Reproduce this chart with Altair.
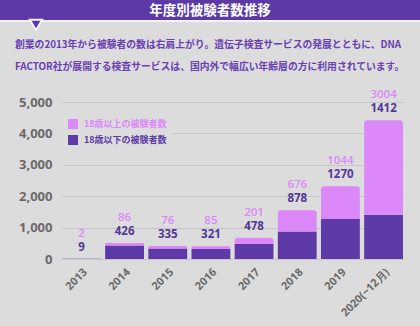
import altair as alt
import pandas as pd

years = ["2013", "2014", "2015", "2016", "2017", "2018", "2019", "2020(~12月)"]
under18 = [9, 426, 335, 321, 478, 878, 1270, 1412]
over18 = [2, 86, 76, 85, 201, 676, 1044, 3004]
series_names = ["18歳以上の被験者数", "18歳以下の被験者数"]
y_ticks = [0, 1000, 2000, 3000, 4000, 5000]

header_title = "年度別被験者数推移"
para_lines = [
    "創業の2013年から被験者の数は右肩上がり。遺伝子検査サービスの発展とともに、DNA",
    "FACTOR社が展開する検査サービスは、国内外で幅広い年齢層の方に利用されています。",
]

DARK = "#5e3aa8"
PINK = "#dd88f9"
BG = "#dcdcdc"
HEAD = "#5b3aa6"
TXT = "#6a40b2"

rows = []
for yr, u, o in zip(years, under18, over18):
    rows.append({"year": yr, "series": series_names[1], "start": 0, "end": u})
    rows.append({"year": yr, "series": series_names[0], "start": u, "end": u + o})
long_df = pd.DataFrame(rows)
wide_df = pd.DataFrame({"year": years, "under": under18, "over": over18})
wide_df["total"] = wide_df["under"] + wide_df["over"]

xaxis = alt.Axis(labelAngle=-45, labelColor="#6a6a6a", labelFontSize=11,
                 labelFontWeight="bold", labelFont="Open Sans",
                 ticks=False, domain=False, labelPadding=7)
yaxis = alt.Axis(values=y_ticks, format=",d", labelColor="#6a6a6a",
                 labelFontSize=13, labelFontWeight="bold", labelFont="Open Sans",
                 ticks=False, domain=False, labelPadding=10, labelOverlap=False,
                 gridColor="#c6c6c6", gridWidth=1)
xscale = alt.Scale(paddingInner=0.1, paddingOuter=0)
yscale = alt.Scale(domain=[0, 5000])


def X():
    return alt.X("year:N", sort=years, title=None, scale=xscale, axis=xaxis)


def Y(field):
    return alt.Y(field, scale=yscale, title=None, axis=yaxis)


color = alt.Color("series:N", title=None,
                  scale=alt.Scale(domain=series_names, range=[PINK, DARK]),
                  legend=alt.Legend(orient="none", legendX=2, legendY=13,
                                    symbolType="square", symbolSize=100,
                                    symbolStrokeWidth=0, symbolOpacity=1,
                                    labelFontSize=9, labelFont="Noto Sans CJK JP",
                                    labelFontWeight="bold",
                                    labelColor=alt.ExprRef(
                                        f"datum.label == '{series_names[0]}' ? '{PINK}' : '{DARK}'"),
                                    rowPadding=6, labelOffset=6, padding=4,
                                    fillColor=BG, strokeColor=BG))

base = alt.Chart(long_df)
dark_bars = base.transform_filter(alt.datum.series == series_names[1]).mark_bar().encode(
    x=X(), y=Y("start:Q"), y2="end:Q", color=color)
pink_bars = base.transform_filter(alt.datum.series == series_names[0]).mark_bar(
    cornerRadiusTopLeft=3, cornerRadiusTopRight=3).encode(
    x=X(), y=Y("start:Q"), y2="end:Q", color=color)

lab = alt.Chart(wide_df)
under_lbl = lab.mark_text(dy=-11, fontSize=11.5, fontWeight="bold", color="#553897",
                          font="Open Sans").encode(
    x=X(), y=Y("total:Q"), text="under:Q")
over_lbl = lab.mark_text(dy=-25, fontSize=11.5, fontWeight=600, color=PINK,
                         font="Open Sans").encode(
    x=X(), y=Y("total:Q"), text="over:Q")

one = pd.DataFrame({"t": [header_title]})
head_rect = alt.Chart(one).mark_rect(color=HEAD).encode(
    x=alt.value(-62), x2=alt.value(358), y=alt.value(-102), y2=alt.value(-82))
white_line = alt.Chart(one).mark_rect(color="#f4f4f4").encode(
    x=alt.value(-62), x2=alt.value(358), y=alt.value(-82), y2=alt.value(-80))
tri = alt.Chart(one).mark_point(shape="triangle-down", filled=True, fill=HEAD,
                                stroke="#f4f4f4", strokeWidth=2, opacity=1, size=150).encode(
    x=alt.value(-26), y=alt.value(-77))
head_txt = alt.Chart(one).mark_text(color="white", fontSize=13.5, fontWeight="bold",
                                    font="Noto Sans CJK JP").encode(
    x=alt.value(148), y=alt.value(-91), text="t:N")
para_df = pd.DataFrame({"t": para_lines})
para1 = alt.Chart(para_df.iloc[[0]]).mark_text(color=TXT, fontSize=9.8, fontWeight="bold",
                                               align="left", font="Noto Sans CJK JP").encode(
    x=alt.value(-47), y=alt.value(-57), text="t:N")
para2 = alt.Chart(para_df.iloc[[1]]).mark_text(color=TXT, fontSize=9.8, fontWeight="bold",
                                               align="left", font="Noto Sans CJK JP").encode(
    x=alt.value(-47), y=alt.value(-35), text="t:N")

chart = alt.layer(dark_bars, pink_bars, under_lbl, over_lbl,
                  head_rect, white_line, tri, head_txt, para1, para2).properties(
    width=341, height=157,
    autosize=alt.AutoSizeParams(type="none"),
    padding={"left": 62, "top": 102, "right": 17, "bottom": 67},
    background=BG,
).configure_view(stroke=None)

chart.save("out.html", embed_options={"renderer": "svg", "actions": False})
